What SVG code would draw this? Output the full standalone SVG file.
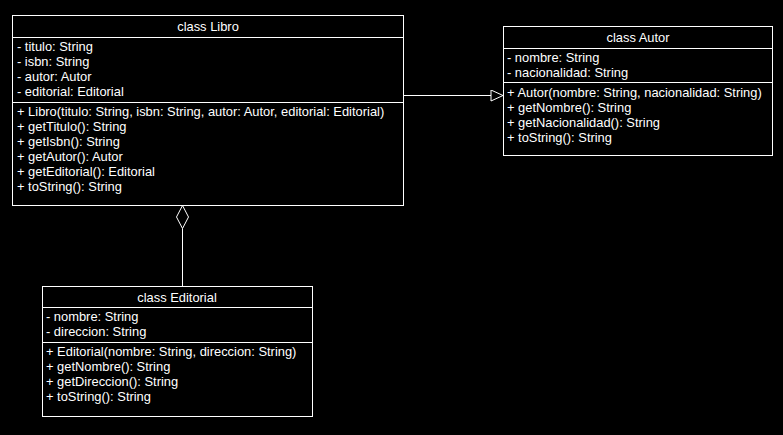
<svg xmlns="http://www.w3.org/2000/svg" width="783" height="435" viewBox="0 0 783 435">
<style>
.box{fill:#000;stroke:#fff;stroke-width:1}
.ln{stroke:#fff;stroke-width:1;fill:none}
text{font-family:"Liberation Sans",Arial,sans-serif;font-size:12.9px;fill:#fff}
.t{text-anchor:middle}
</style>
<defs>
<marker id="tri" markerWidth="14" markerHeight="14" refX="13" refY="6" orient="auto" markerUnits="userSpaceOnUse">
<path d="M1,0.5 L13,6 L1,11.5 Z" fill="#000" stroke="#fff"/>
</marker>
</defs>
<rect width="783" height="435" fill="#000"/>
<g id="connectors">
<path class="ln" d="M403.5,95.5 L503,95.5" marker-end="url(#tri)"/>
<path d="M182.5,205.5 L176.5,217 L182.5,228.5 L188.5,217 Z" fill="#000" stroke="#fff"/>
<path class="ln" d="M182.5,228.5 L182.5,286"/>
</g>
<g id="libro">
<rect class="box" x="12.5" y="15.5" width="391" height="190"/>
<line class="ln" x1="12.5" y1="37.5" x2="403.5" y2="37.5"/>
<line class="ln" x1="12.5" y1="102.5" x2="403.5" y2="102.5"/>
<text class="t" x="208" y="31">class Libro</text>
<text x="17" y="51">- titulo: String</text>
<text x="17" y="66">- isbn: String</text>
<text x="17" y="81">- autor: Autor</text>
<text x="17" y="96">- editorial: Editorial</text>
<text x="17" y="116">+ Libro(titulo: String, isbn: String, autor: Autor, editorial: Editorial)</text>
<text x="17" y="131">+ getTitulo(): String</text>
<text x="17" y="146">+ getIsbn(): String</text>
<text x="17" y="161">+ getAutor(): Autor</text>
<text x="17" y="176">+ getEditorial(): Editorial</text>
<text x="17" y="191">+ toString(): String</text>
</g>
<g id="autor">
<rect class="box" x="503.5" y="26.5" width="269" height="129"/>
<line class="ln" x1="503.5" y1="48.5" x2="772.5" y2="48.5"/>
<line class="ln" x1="503.5" y1="82.5" x2="772.5" y2="82.5"/>
<text class="t" x="638" y="42">class Autor</text>
<text x="507" y="62">- nombre: String</text>
<text x="507" y="77">- nacionalidad: String</text>
<text x="507" y="97">+ Autor(nombre: String, nacionalidad: String)</text>
<text x="507" y="112">+ getNombre(): String</text>
<text x="507" y="127">+ getNacionalidad(): String</text>
<text x="507" y="142">+ toString(): String</text>
</g>
<g id="editorial">
<rect class="box" x="42.5" y="286.5" width="270" height="130"/>
<line class="ln" x1="42.5" y1="307.5" x2="312.5" y2="307.5"/>
<line class="ln" x1="42.5" y1="342.5" x2="312.5" y2="342.5"/>
<text class="t" x="177" y="302">class Editorial</text>
<text x="46" y="321">- nombre: String</text>
<text x="46" y="336">- direccion: String</text>
<text x="46" y="356">+ Editorial(nombre: String, direccion: String)</text>
<text x="46" y="371">+ getNombre(): String</text>
<text x="46" y="386">+ getDireccion(): String</text>
<text x="46" y="401">+ toString(): String</text>
</g>
</svg>
